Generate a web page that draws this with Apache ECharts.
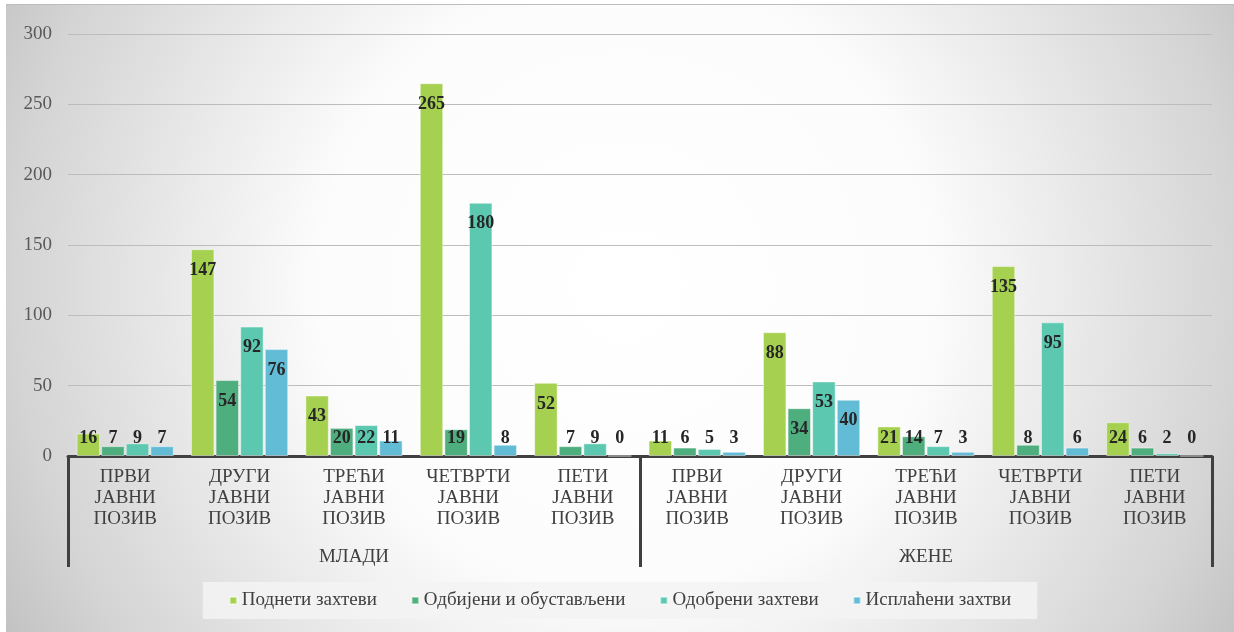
<!DOCTYPE html>
<html>
<head>
<meta charset="utf-8">
<script src="https://cdn.jsdelivr.net/npm/echarts@6/dist/echarts.min.js"></script>
<style>
html,body{margin:0;padding:0;background:#fff;width:1234px;height:632px;overflow:hidden;}
#chart{position:absolute;left:6px;top:4px;width:1228px;height:628px;border-top:1px solid #bdbdbd;box-sizing:border-box;}
</style>
</head>
<body>
<div id="chart"></div>
<script>
const categories = ['ПРВИ\nЈАВНИ\nПОЗИВ','ДРУГИ\nЈАВНИ\nПОЗИВ','ТРЕЋИ\nЈАВНИ\nПОЗИВ','ЧЕТВРТИ\nЈАВНИ\nПОЗИВ','ПЕТИ\nЈАВНИ\nПОЗИВ',
                    'ПРВИ\nЈАВНИ\nПОЗИВ','ДРУГИ\nЈАВНИ\nПОЗИВ','ТРЕЋИ\nЈАВНИ\nПОЗИВ','ЧЕТВРТИ\nЈАВНИ\nПОЗИВ','ПЕТИ\nЈАВНИ\nПОЗИВ'];
const groups = ['МЛАДИ','ЖЕНЕ'];
const seriesNames = ['Поднети захтеви','Одбијени и обустављени','Одобрени захтеви','Исплаћени захтви'];
const podneti   = [16,147,43,265,52,11,88,21,135,24];
const odbijeni  = [7,54,20,19,7,6,34,14,8,6];
const odobreni  = [9,92,22,180,9,5,53,7,95,2];
const isplaceni = [7,76,11,8,0,3,40,3,6,0];
const colors = ['#a6d04f','#4fae7e','#5cc8b0','#63bcd6'];

const FONT = 'Liberation Serif';
const FS = 19;

function toData(arr){
  return arr.map(v => ({
    value: v,
    label: v >= 30
      ? {position:'insideTop', distance: 12}
      : {position:'insideBottom', distance: 9}
  }));
}

const allData = [podneti, odbijeni, odobreni, isplaceni];
const series = allData.map((arr,i) => ({
  name: seriesNames[i],
  type: 'bar',
  xAxisIndex: 0,
  barCategoryGap: '15%',
  barGap: '5%',
  itemStyle: {color: colors[i], borderColor: 'rgba(255,255,255,0.45)', borderWidth: 1},
  label: {show: true, fontFamily: FONT, fontWeight: 'bold', fontSize: 18, color: '#262626'},
  data: toData(arr)
}));

const chart = echarts.init(document.getElementById('chart'));
chart.setOption({
  animation: false,
  color: colors,
  textStyle: {fontFamily: FONT},
  graphic: [{
    type: 'rect', z: -100, zlevel: 0, silent: true, left: 0, top: 0,
    shape: {x: 0, y: 0, width: 1228, height: 628},
    style: {
      fill: {
        type: 'radial', global: true, x: 620, y: 280, r: 730,
        colorStops: [
          {offset: 0, color: '#ffffff'},
          {offset: 0.42, color: '#fcfcfc'},
          {offset: 0.84, color: '#d4d4d4'},
          {offset: 1, color: '#bfbfbf'}
        ]
      }
    }
  }],
  grid: {left: 62, right: 22, top: 29, bottom: 176},
  legend: {
    left: 'center', top: 577,
    itemWidth: 7, itemHeight: 7, itemGap: 34,
    icon: 'rect',
    padding: [9, 26, 9, 26],
    backgroundColor: 'rgba(243,243,243,0.85)',
    textStyle: {fontFamily: FONT, fontSize: FS, color: '#404040'},
    data: seriesNames
  },
  xAxis: [
    {
      type: 'category', data: categories, position: 'bottom',
      axisLine: {show: true, lineStyle: {color: '#404040', width: 3}},
      axisTick: {show: false},
      axisLabel: {fontFamily: FONT, fontSize: FS, color: '#404040', lineHeight: 21, margin: 11, interval: 0}
    },
    {
      type: 'category', data: groups, position: 'bottom', offset: 0,
      axisLine: {show: false},
      axisTick: {show: true, length: 111, lineStyle: {color: '#404040', width: 3}},
      axisLabel: {fontFamily: FONT, fontSize: FS, color: '#404040', margin: 92}
    }
  ],
  yAxis: {
    type: 'value', min: 0, max: 300, interval: 50,
    axisLine: {show: false}, axisTick: {show: false},
    axisLabel: {fontFamily: FONT, fontSize: FS, color: '#595959', margin: 16},
    splitLine: {lineStyle: {color: '#bcbcbc', width: 1}}
  },
  series: series
});
</script>
</body>
</html>
